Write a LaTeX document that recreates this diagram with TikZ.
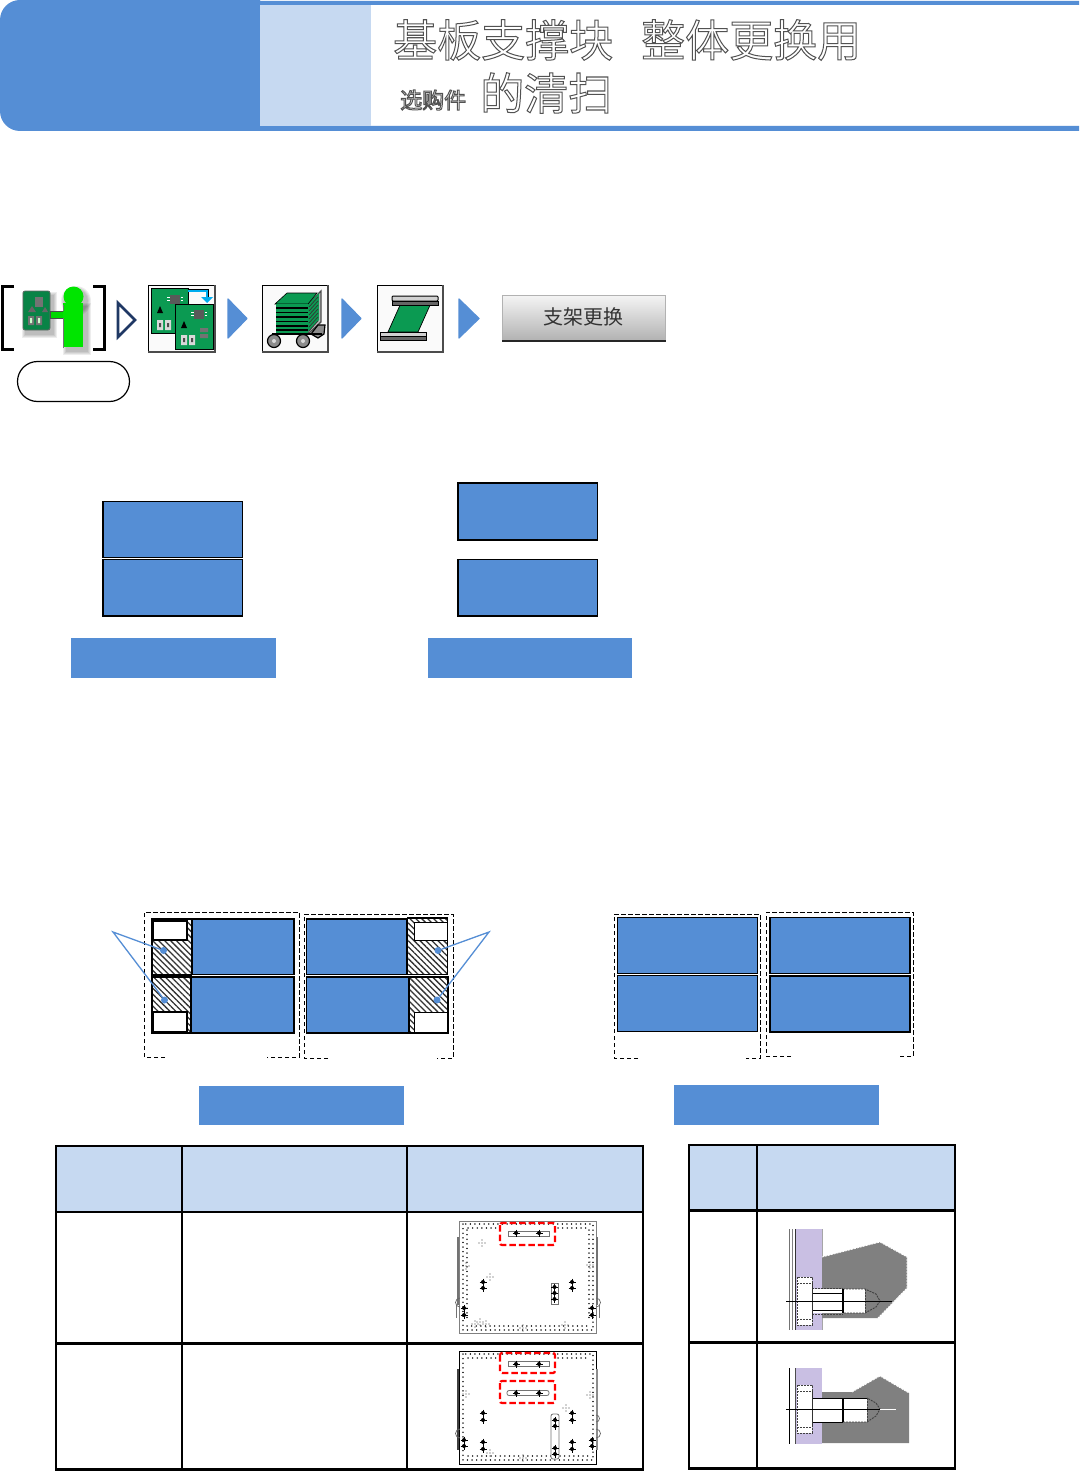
\documentclass[tikz,border=0pt]{standalone}
\usepackage{fontspec}
\usetikzlibrary{patterns.meta,calc}
\newfontfamily\cjk{Noto Sans CJK SC}
\definecolor{hblue}{HTML}{558ED5}
\definecolor{lblue}{HTML}{C6D9F1}
\definecolor{navy}{HTML}{1F3864}
\definecolor{pcb}{HTML}{0B9A52}
\definecolor{bpurple}{HTML}{C9BFE3}
\newcommand{\outl}[2]{{\fontsize{#1}{#1}\selectfont\special{pdf:code q 1 Tr 1 w 0.32 0.32 0.32 RG}#2\special{pdf:code Q}}}
\newcommand{\boltp}[2]{\fill[black] (#1,#2) circle (2); \draw[black,line width=.5] (#1-3.5,#2) -- (#1+3.5,#2) (#1,#2-3.5) -- (#1,#2+3.5);}
\newcommand{\dotc}[2]{\fill[black!75] (#1,#2-3) circle (.6) (#1-3,#2) circle (.6) (#1+3,#2) circle (.6) (#1,#2+3) circle (.6) (#1,#2) circle (.6);}
\newcommand{\chipset}[2]{%
 \fill[black!65] (#1,#2) rectangle ++(10,9);
 \draw[white,line width=.8] (#1-3,#2+2) -- ++(2.5,0) (#1-3,#2+5) -- ++(2.5,0) (#1+10.5,#2+2) -- ++(2.5,0) (#1+10.5,#2+5) -- ++(2.5,0);
 \fill[black] (#1-13,#2+18) -- ++(3,-7) -- ++(3,7) -- cycle;
 \fill[white!85!black] (#1-13,#2+25) rectangle ++(6,10) (#1-5,#2+25) rectangle ++(6,10);
 \fill[black!70] (#1-11,#2+28) rectangle ++(2,4) (#1-3,#2+28) rectangle ++(2,4);}
\tikzset{
 x=1pt,y=-1pt,
 bluebox/.style={draw=black,line width=1.4,fill=hblue,outer sep=0},
 bar/.style={fill=hblue},
 frame/.style={draw=black,line width=1,dash pattern=on 4.5pt off 2.5pt},
 hatchfill/.style={pattern={Lines[angle=-45,distance=4.2pt,line width=1.3pt]},pattern color=black!80},
 callout/.style={draw=hblue,line width=1.3},
 dotp/.style={circle,fill=hblue,inner sep=0,minimum size=7},
 nextarrow/.style={fill=hblue,draw=hblue,line width=1.2,line join=round},
 iconframe/.style={draw=black,line width=1,fill=white!98!black},
 grid/.style={draw=black,line width=2.8},
 reddash/.style={draw=red,line width=2.2,dash pattern=on 6.5pt off 3pt,rounded corners=2},
 plateedge/.style={draw=black!50,line width=.9},
 ring/.style={draw=black!85,line width=1.4,line cap=round,dash pattern=on 0.1pt off 4.5pt},
 slotp/.style={draw=black!55,fill=white,line width=.8},
 boltpart/.style={draw=black!75,line width=.9,dash pattern=on 2pt off 1pt},
 whiteedge/.style={draw=white,dash pattern=on 2pt off 1pt,line width=.8},
}
\begin{document}
\begin{tikzpicture}
\useasboundingbox (0,0) rectangle (1079,1471);
\fill[white] (0,0) rectangle (1079,1471);
% header
\fill[hblue] (20,0) -- (260,0) -- (260,1) -- (1079,1) -- (1079,5) -- (260,5) -- (260,126) -- (1079,126) -- (1079,131) -- (20,131) to[out=180,in=-90] (0,111) -- (0,20) to[out=90,in=180] (20,0) -- cycle;
\fill[lblue] (260,5) rectangle (371,126);
\node[anchor=west,inner sep=0,font=\cjk] (t1) at (393,40) {\outl{44}{基板支撑块}};
\node[anchor=west,inner sep=0,font=\cjk] (t2) at (641,40) {\outl{44}{整体更换用}};
\node[anchor=west,inner sep=0,font=\cjk] (t3) at (400,100) {\outl{22}{选购件}};
\node[anchor=west,inner sep=0,font=\cjk] (t4) at (480,93) {\outl{44}{的清扫}};
% icon 1
\draw[black,line width=3] (14,286) -- (2,286) -- (2,349) -- (14,349);
\draw[black,line width=3] (93,286) -- (104,286) -- (104,349) -- (93,349);
\foreach \gr in {0,1,2,3}{
 \fill[black,opacity=.07] (25-\gr,295-\gr) rectangle (54+\gr,335+\gr);
 \fill[black,opacity=.07] (66-\gr,306-\gr) rectangle (88+\gr,352+\gr);
 \fill[black,opacity=.07] (76,301) circle (12+\gr);
}
\fill[pcb!85!black,rounded corners=2] (23,291) rectangle (50,330);
\draw[black!60,line width=.7,rounded corners=2] (23,291) rectangle (50,330);
\fill[black!55] (35,297) rectangle ++(8,10);
\fill[black!55] (28,316) rectangle ++(6,9) (36,316) rectangle ++(6,9);
\fill[black!60] (28,312) -- ++(4,-6) -- ++(4,6) -- cycle (42,312) -- ++(3,-5) -- ++(3,5) -- cycle;
\fill[white!80!green] (30,318) rectangle ++(2,5) (38,318) rectangle ++(2,5);
\draw[black!70,line width=.8,fill=green!85!black] (50,311) rectangle (66,318);
\fill[green!90!black] (63,303) rectangle (83,347);
\fill[green!90!black] (73.5,296.5) circle (10);
\fill[green!90!black] (69,303) rectangle (78,306);
\draw[black!55,line width=.8] (63,348) -- (63,318) (63,311) -- (63,305);
% pill
\node[draw=black,line width=1.2,rounded corners=20,minimum width=112,minimum height=40,inner sep=0] (pill) at (73.5,381.5) {};
% sep triangle
\draw[navy,line width=2.6,line join=miter] (118,303) -- (135,320) -- (118,337) -- cycle;
% icon 2
\draw[iconframe] (148,285) rectangle (215,352);
\draw[black!70,line width=1.6] (215,285) -- (215,352) -- (148,352);
\draw[black,line width=1,fill=pcb] (151,288) rectangle (188,333);
\chipset{170}{295}
\draw[black,line width=.4] (188,289.5) -- (208.5,289.5) -- (208.5,297);
\draw[cyan,line width=2.2] (188,291) -- (207,291) -- (207,297);
\fill[cyan] (201,297) -- (213,297) -- (207,303) -- cycle;
\draw[black,line width=1,fill=pcb] (175,304) rectangle (213,349);
\chipset{194}{310}
\fill[black!55] (200,328) rectangle (208,332) (200,334) rectangle (208,338);
\fill[nextarrow] (228,299) -- (247,318.5) -- (228,338) -- cycle;
% icon 3
\draw[iconframe] (262,285) rectangle (328,352);
\draw[black!70,line width=1.6] (328,285) -- (328,352) -- (262,352);
\draw[black!70,line width=1.4,fill=black!25] (308,304) -- (321,291) -- (321,322) -- (308,334) -- cycle;
\fill[pcb] (308,304) -- (319,293) -- (319,320) -- (308,332) -- cycle;
\foreach \yy in {0,4,8,12,16,20,24}{\draw[black!80,line width=.7] (309,307+\yy) -- (318,297+\yy);}
\draw[black,line width=.6,fill=pcb] (275,304) -- (287,293) -- (317,293) -- (308,304) -- cycle;
\fill[pcb] (276,304) rectangle (308,334);
\foreach \yy in {308,312.5,317,321.5,326,330}{\draw[black,line width=1.2] (276,\yy) -- (308,\yy);}
\draw[black,line width=1.2,fill=black!45] (311,334) -- (318,325) -- (325,325) -- (324,334) -- (318,338) -- cycle;
\draw[black,line width=1.2] (272,334) -- (322,334);
\draw[black,line width=1.2,fill=black!45] (274,341) circle (6.5);
\fill[black!15] (274,341) circle (2);
\draw[black,line width=1.2,fill=black!45] (303,341) circle (6.5);
\fill[black!15] (303,341) circle (2);
\fill[nextarrow] (342,299) -- (361,318.5) -- (342,338) -- cycle;
% icon 4
\draw[iconframe] (377,285) rectangle (443,352);
\draw[black!70,line width=1.6] (443,285) -- (443,352) -- (377,352);
\draw[black,line width=.7,fill=pcb] (401,303) -- (431,303) -- (418,332) -- (388,332) -- cycle;
\draw[black,line width=1,fill=black!18,rounded corners=1] (392,296) rectangle (438,301);
\draw[black,line width=1,fill=black!60] (392,301) rectangle (438,305);
\draw[black,line width=1,fill=black!18] (380,332) rectangle (426,336);
\draw[black,line width=1,fill=black!60] (380,336) rectangle (426,340);
\fill[nextarrow] (459,299) -- (479,318.5) -- (459,338) -- cycle;
% button
\shade[top color=black!4,bottom color=black!30] (502,295) rectangle (665.5,340);
\draw[black!30,line width=.7] (502,295) rectangle (665.5,340);
\draw[black!85,line width=2] (502,340.5) -- (665.5,340.5);
\node[font=\cjk,text=black!80,inner sep=0] (btn) at (583,317) {\fontsize{20}{20}\selectfont 支架更换};
% upper blue boxes
\node[bluebox,minimum width=139.5,minimum height=56,inner sep=0,anchor=north west] (a1) at (103,501.5) {};
\node[bluebox,minimum width=139.5,minimum height=56.5,inner sep=0,anchor=north west] (a2) at (103,559.5) {};
\node[bluebox,minimum width=139.5,minimum height=57,inner sep=0,anchor=north west] (b1) at (458,483) {};
\node[bluebox,minimum width=139.5,minimum height=56.5,inner sep=0,anchor=north west] (b2) at (458,559.5) {};
\node[bar,minimum width=205,minimum height=40,inner sep=0,anchor=north west] (c1) at (71,638) {};
\node[bar,minimum width=204,minimum height=40,inner sep=0,anchor=north west] (c2) at (428,638) {};
% left pair hatched
\draw[frame] (165,1057) -- (144,1057) -- (144,912) -- (299,912) -- (299,1057) -- (267,1057);
\draw[frame] (328,1058) -- (304,1058) -- (304,914) -- (453,914) -- (453,1058) -- (437,1058);
\foreach \xa/\xb/\ya/\yb in {152/192/919/974.5,152/191/977/1033,407/447/919/974.5,409/447/977/1033}{
 \fill[hatchfill] (\xa,\ya) rectangle (\xb,\yb);}
\draw[black,line width=1.2,fill=white] (153,921) rectangle (187,940);
\draw[black,line width=1.2,fill=white] (153,1012) rectangle (187,1032);
\draw[black,line width=1,fill=white] (414,922) rectangle (447,940);
\draw[black,line width=1,fill=white] (414,1012) rectangle (447,1032);
\draw[black,line width=2] (192,919) -- (152,919) -- (152,974.5) -- (192,974.5);
\draw[black,line width=2] (191,977) -- (152,977) -- (152,1033) -- (191,1033);
\draw[black,line width=1.2] (407,918) -- (447.5,918) -- (447.5,974.5) -- (407,974.5);
\draw[black,line width=1.4] (409,977) -- (448,977) -- (448,1033) -- (409,1033);
\node[bluebox,minimum width=102,minimum height=55.5,inner sep=0,anchor=north west] (d1) at (192,919) {};
\node[bluebox,minimum width=103,minimum height=56,inner sep=0,anchor=north west] (d2) at (191,977) {};
\node[bluebox,minimum width=100.5,minimum height=55.5,inner sep=0,anchor=north west] (e1) at (306.5,919) {};
\node[bluebox,minimum width=102.5,minimum height=56,inner sep=0,anchor=north west] (e2) at (306.5,977) {};
% callouts
\coordinate (apexl) at (113,932);
\coordinate (apexr) at (489,932);
\node[dotp] (p1) at (163.5,950.5) {};
\node[dotp] (p2) at (164.5,1000) {};
\node[dotp] (p3) at (438,950.5) {};
\node[dotp] (p4) at (437,1000) {};
\draw[callout] (p1) -- (apexl) -- (p2);
\draw[callout] (p3) -- (apexr) -- (p4);
% right pair
\draw[frame] (638,1058) -- (614,1058) -- (614,914) -- (760,914) -- (760,1058) -- (746,1058);
\draw[frame] (791,1056) -- (766,1056) -- (766,912) -- (913,912) -- (913,1056) -- (899,1056);
\node[bluebox,minimum width=140,minimum height=56,inner sep=0,anchor=north west] (f1) at (617.5,917.5) {};
\node[bluebox,minimum width=140,minimum height=56,inner sep=0,anchor=north west] (f2) at (617.5,975.5) {};
\node[bluebox,minimum width=140,minimum height=56,inner sep=0,anchor=north west] (g1) at (770,917.5) {};
\node[bluebox,line width=1.8,minimum width=140,minimum height=56,inner sep=0,anchor=north west] (g2) at (770,976) {};
\node[bar,minimum width=205,minimum height=39,inner sep=0,anchor=north west] (h1) at (199,1086) {};
\node[bar,minimum width=205,minimum height=40,inner sep=0,anchor=north west] (h2) at (674,1085) {};
% left table
\fill[lblue] (56,1146) rectangle (643,1212);
\draw[grid] (56,1146) rectangle (643,1469.5);
\draw[grid] (182,1146) -- (182,1469.5) (407,1146) -- (407,1469.5);
\draw[grid] (56,1212) -- (643,1212) (56,1343.5) -- (643,1343.5);
% right table
\fill[lblue] (689,1145) rectangle (955,1210.5);
\draw[grid] (689,1145) rectangle (955,1468.5);
\draw[grid] (757,1145) -- (757,1468.5);
\draw[grid] (689,1210.5) -- (955,1210.5) (689,1342.5) -- (955,1342.5);
% plate 1
\draw[plateedge] (459.5,1221) rectangle (596,1333);
\draw[ring] (463,1224) rectangle (593,1330);
\draw[ring] (467,1326) -- (590,1326);
\draw[ring] (468,1228) -- (498,1228) (558,1228) -- (588,1228);
\draw[ring] (467,1230) -- (467,1320) (589,1230) -- (589,1320);
\dotc{482}{1243}\dotc{490}{1277}
\dotc{466}{1266}\dotc{590}{1265}\dotc{480}{1322}\dotc{486}{1324}\dotc{475}{1324}\dotc{565}{1325}\dotc{523}{1328}
\draw[black!55,line width=1.4] (458,1237) -- (458,1305) (597,1237) -- (597,1305);
\draw[black!55,line width=.7] (456,1305) -- (456,1318) (599,1305) -- (599,1318);
\draw[black!60,line width=.7] (460,1307) arc (90:270:4.5);
\draw[black!60,line width=.7] (596,1307) arc (90:-90:4.5);
\draw[slotp] (508,1231) rectangle (549,1236);
\boltp{516}{1233}\boltp{539}{1233}
\boltp{483}{1282}\boltp{483}{1288}\boltp{572}{1282}\boltp{572}{1288}
\draw[slotp] (551,1283) rectangle (558,1304);
\boltp{554.5}{1287}\boltp{554.5}{1293}\boltp{554.5}{1299}
\boltp{464}{1308}\boltp{464}{1315}\boltp{592}{1308}\boltp{592}{1315}
\draw[reddash] (500,1223) rectangle (555,1245);
% plate 2
\draw[black,line width=.9] (459.5,1351) rectangle (596,1464);
\draw[ring] (463,1354) rectangle (593,1460);
\draw[ring] (468,1456) -- (588,1456);
\draw[ring] (468,1358) -- (498,1358) (558,1358) -- (588,1358);
\dotc{466}{1394}\dotc{566}{1408}\dotc{490}{1453}\dotc{523}{1458}\dotc{590}{1395}
\draw[black!75,line width=1.4] (458,1369) -- (458,1450);
\draw[black!45,line width=1.4] (597,1369) -- (597,1450);
\draw[black!60,line width=.7] (460,1438) arc (90:270:4.5);
\draw[black!60,line width=.7] (596,1438) arc (90:-90:4.5);
\draw[black!60,line width=.7] (596,1422) arc (90:-90:3.5);
\draw[slotp] (508,1361.5) rectangle (549,1366.5);
\boltp{516}{1364}\boltp{539}{1364}
\draw[slotp,rounded corners=2] (507,1390.5) rectangle (549,1395.5);
\boltp{516}{1393}\boltp{539}{1393}
\boltp{483}{1413}\boltp{483}{1420}\boltp{572}{1413}\boltp{572}{1420}
\boltp{483}{1442}\boltp{483}{1449}\boltp{572}{1442}\boltp{572}{1449}
\boltp{464}{1440}\boltp{464}{1446}\boltp{592}{1440}\boltp{592}{1446}
\draw[slotp,rounded corners=2] (551,1414) rectangle (559,1459);
\boltp{555}{1420}\boltp{555}{1426}\boltp{555}{1448}\boltp{555}{1454}
\draw[reddash] (500,1353) rectangle (555,1373);
\draw[reddash] (500,1381) rectangle (555,1403);
% bolt 1
\fill[bpurple] (795,1229) rectangle (822,1330);
\draw[black!55,line width=.7] (789,1229) -- (789,1330);
\draw[black!50,line width=.7] (792,1229) -- (792,1330);
\draw[black!80,line width=1] (795,1229) -- (795,1330);
\draw[black!35,line width=1] (822,1229) -- (822,1330);
\fill[black!50] (822,1257) -- (880,1242) -- (907,1257) -- (907,1288) -- (878,1318) -- (822,1318) -- cycle;
\draw[whiteedge] (822,1257) -- (880,1242) -- (907,1257) -- (907,1288) -- (878,1318);
\fill[white] (797,1277) rectangle (812,1325);
\draw[boltpart] (797,1277) rectangle (812,1325);
\draw[boltpart] (797,1283) -- (812,1283) (797,1319) -- (812,1319);
\fill[white] (812,1289) rectangle (865,1313);
\draw[boltpart] (812,1288) -- (843,1288) (812,1314) -- (843,1314);
\draw[black,line width=.9] (812,1293) -- (843,1293) (812,1310) -- (843,1310);
\draw[black!80,line width=.9] (812,1283) -- (812,1319);
\draw[boltpart] (843,1289) -- (865,1289) -- (876,1294) -- (880,1301) -- (876,1307) -- (865,1313) -- (843,1313);
\draw[boltpart] (865,1289) -- (865,1313);
\draw[black,line width=1.2] (843,1289) -- (843,1313);
\draw[black,line width=.9] (786,1301) -- (892,1301);
% bolt 2
\fill[bpurple] (795,1368) rectangle (822,1444);
\draw[black,line width=.8] (789,1368) -- (789,1444);
\draw[black!70,line width=.7] (795,1368) -- (795,1444);
\fill[black!50] (822,1392) -- (852,1392) -- (880,1376) -- (909,1393) -- (909,1443) -- (822,1443) -- cycle;
\draw[whiteedge] (852,1392) -- (880,1376) -- (909,1393);
\fill[white] (797,1385) rectangle (812,1433);
\draw[boltpart] (797,1385) rectangle (812,1433);
\draw[boltpart] (797,1391) -- (812,1391) (797,1427) -- (812,1427);
\fill[white] (812,1398) rectangle (867,1422);
\draw[black,line width=.9] (812,1398) -- (867,1398) (812,1422) -- (843,1422);
\draw[boltpart] (843,1422) -- (867,1422) -- (876,1416) -- (880,1409) -- (876,1403) -- (867,1398);
\draw[boltpart] (867,1398) -- (867,1422);
\draw[black,line width=1.2] (843,1398) -- (843,1422);
\draw[black!80,line width=.9] (812,1391) -- (812,1427);
\draw[black,line width=.9] (786,1409) -- (880,1409);
\draw[white,line width=.8] (880,1409) -- (896,1409);
\end{tikzpicture}
\end{document}
